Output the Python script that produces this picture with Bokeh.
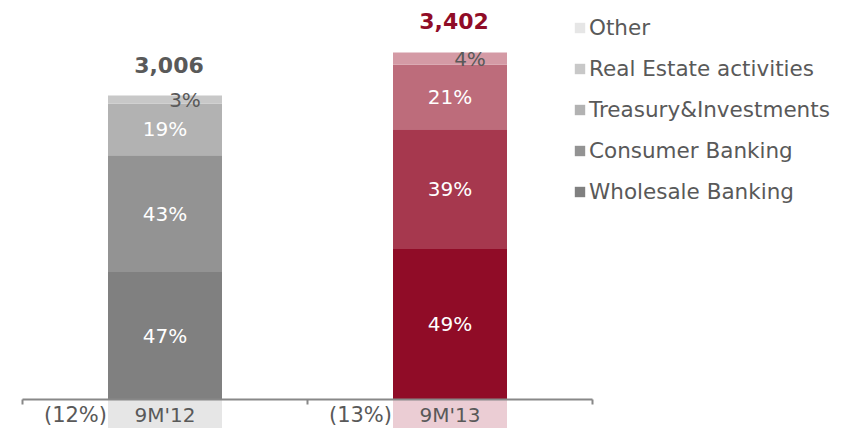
from bokeh.plotting import figure
from bokeh.models import (Range1d, LinearAxis, FixedTicker, Legend, LegendItem,
                          ColumnDataSource)
from bokeh.core.properties import value
from bokeh.embed import file_html
from bokeh.resources import INLINE

# ---- data ----
categories = ["9M'12", "9M'13"]
totals = [3006, 3402]
series = ["Wholesale Banking", "Consumer Banking", "Treasury&Investments",
          "Real Estate activities", "Other"]
wholesale_pct = [47, 49]
consumer_pct = [43, 39]
treasury_pct = [19, 21]
real_estate_pct = [3, 4]
other_pct = [-12, -13]

# colours: [bar 9M'12, bar 9M'13]
colors = {
    "Wholesale Banking": ["#808080", "#900C27"],
    "Consumer Banking": ["#939393", "#A6384E"],
    "Treasury&Investments": ["#B2B2B2", "#BD6C7B"],
    "Real Estate activities": ["#C8C8C8", "#D49AA5"],
    "Other": ["#E6E6E6", "#EBCDD4"],
}
total_colors = ["#595959", "#900C27"]
FONT = "DejaVu Sans"
TXT = "#595959"

xs = [0.5, 1.5]
bar_w = 0.40

p = figure(width=834, height=428, output_backend="svg", toolbar_location=None,
           x_axis_location=None, y_axis_location=None,
           x_range=Range1d(-0.0772, 2.8491), y_range=Range1d(-321, 4419),
           min_border=0, outline_line_color=None)
p.grid.visible = False

pct_lists = [wholesale_pct, consumer_pct, treasury_pct, real_estate_pct]
renderers = {}
bottoms = [0.0, 0.0]
label_rows = []
for name, pcts in zip(series[:4], pct_lists):
    vals = [pc / 100.0 * t for pc, t in zip(pcts, totals)]
    tops = [b + v for b, v in zip(bottoms, vals)]
    src = ColumnDataSource(dict(x=xs, bottom=list(bottoms), top=tops,
                                color=colors[name]))
    renderers[name] = p.vbar(x="x", width=bar_w, bottom="bottom", top="top",
                             fill_color="color", line_color=None, source=src)
    for i in range(2):
        label_rows.append((name, xs[i], (bottoms[i] + tops[i]) / 2, f"{pcts[i]}%"))
    bottoms = tops

other_vals = [pc / 100.0 * t for pc, t in zip(other_pct, totals)]
src_o = ColumnDataSource(dict(x=xs, bottom=[0, 0], top=other_vals,
                              color=colors["Other"]))
renderers["Other"] = p.vbar(x="x", width=bar_w, bottom="bottom", top="top",
                            fill_color="color", line_color=None, source=src_o)

# inside labels (white)
inside = [r for r in label_rows if r[0] != "Real Estate activities"]
p.text(x=[r[1] for r in inside], y=[r[2] for r in inside], text=[r[3] for r in inside],
       text_color="white", text_font=value(FONT), text_font_size="20px",
       text_align="center", text_baseline="middle")
# real-estate labels (gray, offset)
re_rows = [r for r in label_rows if r[0] == "Real Estate activities"]
p.text(x=[r[1] for r in re_rows], y=[r[2] for r in re_rows], text=[r[3] for r in re_rows],
       x_offset=20, text_color=TXT, text_font=value(FONT), text_font_size="20px",
       text_align="center", text_baseline="middle")
# other labels (placed just under the zero line, left of each bar)
p.text(x=[x - bar_w / 2 for x in xs], y=[0, 0],
       text=[f"({abs(v)}%)" for v in other_pct], x_offset=-1, y_offset=15,
       text_color=TXT, text_font=value(FONT), text_font_size="21px",
       text_align="right", text_baseline="middle")
# totals
p.text(x=xs, y=bottoms, text=[f"{t:,}" for t in totals], y_offset=-31, x_offset=4,
       text_color=total_colors, text_font=value(FONT), text_font_size="22px",
       text_font_style="bold", text_align="center", text_baseline="middle")

# category axis at zero
ax = LinearAxis(fixed_location=0, bounds=(0, 2),
                ticker=FixedTicker(ticks=xs, minor_ticks=[0, 1, 2]),
                major_label_overrides={0.5: categories[0], 1.5: categories[1]},
                major_tick_out=0, major_tick_in=0, minor_tick_out=5, minor_tick_in=0,
                minor_tick_line_color="#888888", minor_tick_line_width=2,
                axis_line_color="#888888", axis_line_width=2,
                major_label_standoff=-2, major_label_text_color=TXT,
                major_label_text_font=FONT, major_label_text_font_size="20px")
p.add_layout(ax, "below")

items = [LegendItem(label=n, renderers=[renderers[n]], index=0) for n in series[::-1]]
legend = Legend(items=items, location=(573, 224), padding=0, margin=0,
                border_line_color=None, background_fill_alpha=0,
                label_text_font=FONT, label_text_font_size="21.5px",
                label_text_color=TXT, glyph_width=13, glyph_height=13,
                label_standoff=3, spacing=16)
p.add_layout(legend, "center")

open("out.html", "w").write(file_html(p, INLINE))
